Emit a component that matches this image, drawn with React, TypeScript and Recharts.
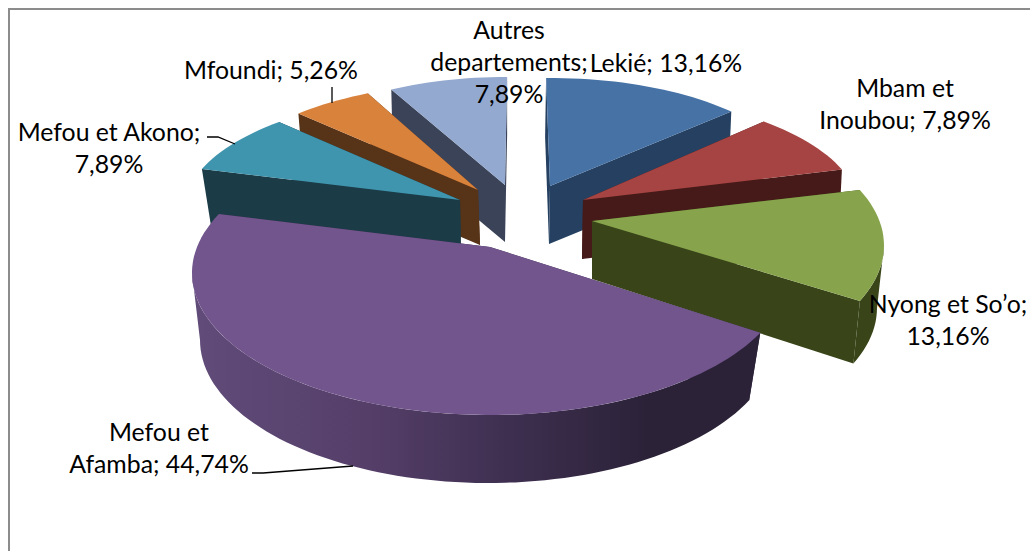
import { PieChart, Pie, Cell } from 'recharts'

// two pies split at 12 o'clock: the rear one runs counter clockwise so the slices overlap like the 3D original
const rearNames = ['Autres departements', 'Mfoundi', 'Mefou et Akono']
const rearShares = [7.89, 5.26, 7.89]
const rearColors = ['#93a9cf', '#d9823c', '#4095ae']
const rearWalls = ['#3b4358', '#573318', '#1b3b47']

const frontNames = ['Lekié', 'Mbam et Inoubou', 'Nyong et So’o', 'Mefou et Afamba']
const frontShares = [13.16, 7.89, 13.16, 44.74]
const frontColors = ['#4672a6', '#a54442', '#87a44c', '#71558c']
const frontWalls = ['#254061', '#461a18', '#394519', '#3a2c4b']

const rearData = rearNames.map((name, i) => ({ name, value: rearShares[i], wall: rearWalls[i] }))
const frontData = frontNames.map((name, i) => ({ name, value: frontShares[i], wall: frontWalls[i] }))

const W = 1030
const H = 551
const CX = 500
const CY = 230
const rearSweep = (rearShares.reduce((a, b) => a + b, 0) / 100) * 360

// label lines, the value text is appended to the last one
const labelParts: Record<string, string[]> = {
  'Mefou et Akono': ['Mefou et Akono;', ''],
  Mfoundi: ['Mfoundi; '],
  'Autres departements': ['Autres', 'departements;', ''],
  Lekié: ['Lekié; '],
  'Mbam et Inoubou': ['Mbam et', 'Inoubou; '],
  'Nyong et So’o': ['Nyong et So’o;', ''],
  'Mefou et Afamba': ['Mefou et', 'Afamba; '],
}
const labelAnchors: Record<string, [number, number]> = {
  'Mefou et Akono': [109, 141],
  Mfoundi: [271, 79],
  'Autres departements': [509, 39],
  Lekié: [666, 72],
  'Mbam et Inoubou': [905, 97],
  'Nyong et So’o': [948, 313],
  'Mefou et Afamba': [159, 441],
}
const leaders: Record<string, string> = {
  'Mefou et Akono': '207,137 218,137 235,144',
  Mfoundi: '332,87 332,103',
  'Mefou et Afamba': '252,473 263,473 353,466',
}

// per slice projection of the tilted, exploded disc
type Proj = {
  ox: number; oy: number; rx: number; ry: number // top ellipse, relative to pie centre
  rot: number; stretch: number // screen angle distortion
  tx: number; ty: number // tip of the wedge
  box: number; boy: number; brx: number; bry: number // bottom ellipse
  btx: number; bty: number // bottom tip
}
const projections: Record<string, Proj> = {
  'Mefou et Akono': { ox: -29, oy: -23, rx: 285, ry: 115, rot: 5, stretch: 1, tx: -40, ty: -30, box: -24, boy: 32, brx: 281, bry: 115, btx: -39, bty: 26 },
  Mfoundi: { ox: -22, oy: -40, rx: 257, ry: 107, rot: 3, stretch: 1, tx: -22, ty: -40, box: -21, boy: 15, brx: 252, bry: 105, btx: -20, bty: 15 },
  'Autres departements': { ox: 5, oy: -45, rx: 243, ry: 108, rot: 0.5, stretch: 1, tx: 5, ty: -45, box: 5, boy: 12, brx: 240, bry: 106, btx: 5, bty: 12 },
  Lekié: { ox: 50, oy: -44, rx: 250, ry: 108, rot: -0.9, stretch: 1, tx: 50, ty: -44, box: 49, boy: 14, brx: 248, bry: 107, btx: 49, bty: 14 },
  'Mbam et Inoubou': { ox: 69, oy: -22, rx: 289, ry: 117, rot: -5, stretch: 1, tx: 83, ty: -30, box: 68, boy: 37, brx: 287, bry: 117, btx: 82, bty: 29 },
  'Nyong et So’o': { ox: 98, oy: 15.5, rx: 286, ry: 138, rot: -9.5, stretch: 1, tx: 92, ty: -9, box: 97, boy: 78, brx: 280, bry: 138, btx: 92, bty: 49 },
  'Mefou et Afamba': { ox: -10, oy: 43, rx: 298, ry: 142, rot: 1, stretch: 1.115, tx: -10, ty: 17, box: -12, boy: 110, brx: 288, bry: 143, btx: -10, bty: 77 },
}

// recharts angles are counter clockwise from 3 o'clock, turn them into clockwise from 12
const clock = (a: number) => 90 - a

function arcPoints(cx: number, cy: number, rx: number, ry: number, from: number, to: number) {
  const steps = Math.max(6, Math.ceil(Math.abs(to - from) / 2))
  const pts: string[] = []
  for (let i = 0; i <= steps; i++) {
    const phi = ((from + ((to - from) * i) / steps) * Math.PI) / 180
    pts.push(`${(cx + rx * Math.sin(phi)).toFixed(1)},${(cy - ry * Math.cos(phi)).toFixed(1)}`)
  }
  return pts
}

function SliceShape(props: any) {
  const { cx, cy, startAngle, endAngle, name, fill, wall } = props
  const p = projections[name]
  const a = clock(startAngle)
  const b = clock(endAngle)
  const mid = (a + b) / 2
  const from = mid + p.rot + (a - mid) * p.stretch
  const to = mid + p.rot + (b - mid) * p.stretch

  const top = arcPoints(cx + p.ox, cy + p.oy, p.rx, p.ry, from, to)
  const bottom = arcPoints(cx + p.box, cy + p.boy, p.brx, p.bry, from, to)
  const tip = `${cx + p.tx},${cy + p.ty}`
  const bottomTip = `${cx + p.btx},${cy + p.bty}`

  // the curved wall only shows on the near half of the disc, between 90 and 270 degrees
  const lo = Math.max(Math.min(from, to), 90)
  const hi = Math.min(Math.max(from, to), 270)
  const outerFill = name === 'Mefou et Afamba' ? 'url(#afambaWall)' : wall
  const outer =
    hi > lo
      ? [...arcPoints(cx + p.ox, cy + p.oy, p.rx, p.ry, lo, hi), ...arcPoints(cx + p.box, cy + p.boy, p.brx, p.bry, hi, lo)]
      : null

  return (
    <g>
      <polygon points={[tip, top[0], bottom[0], bottomTip].join(' ')} fill={wall} />
      <polygon points={[tip, top[top.length - 1], bottom[bottom.length - 1], bottomTip].join(' ')} fill={wall} />
      {outer && <polygon points={outer.join(' ')} fill={outerFill} />}
      <polygon points={[tip, ...top].join(' ')} fill={fill} />
    </g>
  )
}

function renderLabel(props: any) {
  const { name, value } = props
  const lines = labelParts[name]
  const [x, y] = labelAnchors[name]
  const pct = value.toFixed(2).replace('.', ',') + '%'
  const text = lines.map((l, i) => (i === lines.length - 1 ? l + pct : l))
  return (
    <g>
      {leaders[name] && <polyline points={leaders[name]} fill="none" stroke="#000" strokeWidth={1.3} />}
      {text.map((l, i) => (
        <text key={l} x={x} y={y + i * 32} textAnchor="middle" fontFamily="Lato" fontSize={24.8} fill="#000">
          {l}
        </text>
      ))}
    </g>
  )
}

export default function App() {
  return (
    <div style={{ position: 'absolute', left: 0, top: 0, width: W, height: H, background: '#fff', overflow: 'hidden' }}>
      <div style={{ position: 'absolute', left: 8, top: 8, width: 1040, height: 560, borderLeft: '2px solid #8c8c8c', borderTop: '2px solid #8c8c8c', boxSizing: 'border-box' }} />
      <PieChart width={W} height={H} margin={{ top: 0, right: 0, bottom: 0, left: 0 }}>
        <defs>
          <linearGradient id="afambaWall" gradientUnits="userSpaceOnUse" x1="200" y1="0" x2="760" y2="0">
            <stop offset="0" stopColor="#604b79" />
            <stop offset="0.3" stopColor="#553f69" />
            <stop offset="0.55" stopColor="#3e2f50" />
            <stop offset="0.8" stopColor="#2b2238" />
            <stop offset="1" stopColor="#2b2238" />
          </linearGradient>
        </defs>
        <Pie
          data={rearData}
          dataKey="value"
          nameKey="name"
          cx={CX}
          cy={CY}
          outerRadius={250}
          startAngle={90}
          endAngle={90 + rearSweep}
          stroke="none"
          isAnimationActive={false}
          shape={SliceShape}
          label={renderLabel}
          labelLine={false}
        >
          {rearData.map((d, i) => (
            <Cell key={d.name} fill={rearColors[i]} />
          ))}
        </Pie>
        <Pie
          data={frontData}
          dataKey="value"
          nameKey="name"
          cx={CX}
          cy={CY}
          outerRadius={250}
          startAngle={90}
          endAngle={90 + rearSweep - 360}
          stroke="none"
          isAnimationActive={false}
          shape={SliceShape}
          label={renderLabel}
          labelLine={false}
        >
          {frontData.map((d, i) => (
            <Cell key={d.name} fill={frontColors[i]} />
          ))}
        </Pie>
      </PieChart>
    </div>
  )
}
